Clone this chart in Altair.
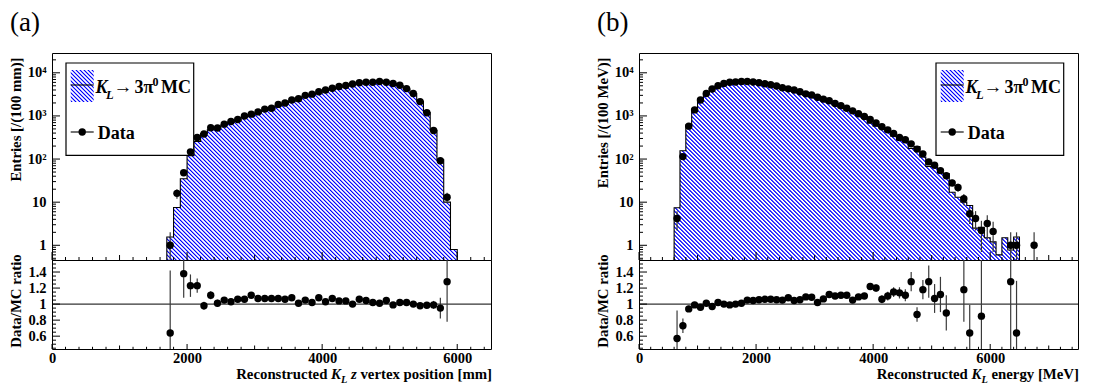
import math
import altair as alt
import pandas as pd

FONT = "Liberation Serif"
BLUE = "#0000ff"

# ---------------- panel (a): K_L z vertex position ----------------
a_x_domain = [0, 6500]
a_first_edge = 1700
a_mc = [1.56, 7.5, 35, 120, 257, 388, 477, 520, 614, 718,
        783, 943, 991, 1159, 1346, 1411, 1729, 1887, 2176, 2475,
        2857, 3137, 3380, 3883, 4112, 4615, 4904, 5500, 5566, 5789,
        5931, 6238, 5789, 5707, 5049, 4216, 3300, 2194, 1198, 465,
        96, 10, 0.8]
a_data_x = [1750 + 100 * i for i in range(42)]
a_data_y = [1.0, 16, 48, 147, 316, 380, 530, 525, 645, 740,
            830, 1000, 1100, 1240, 1440, 1510, 1850, 2000, 2350, 2500,
            3000, 3200, 3650, 4000, 4400, 4800, 5100, 5500, 5900, 6050,
            6050, 6300, 6050, 5650, 5150, 4300, 3300, 2150, 1180, 460,
            91, 13]
a_data_e = [1.0, 4, 7, 12, 18, 19, 23, 23, 25, 27,
            29, 32, 33, 35, 38, 39, 43, 45, 48, 50,
            55, 57, 60, 63, 66, 69, 71, 74, 77, 78,
            78, 79, 78, 75, 72, 66, 57, 46, 34, 21,
            9.5, 3.6]
a_ratio_x = [1750] + [1950 + 100 * i for i in range(40)]
a_ratio_y = [0.64, 1.38, 1.23, 1.23, 0.98, 1.11, 1.01, 1.05, 1.03, 1.06,
             1.06, 1.11, 1.07, 1.07, 1.07, 1.07, 1.06, 1.08, 1.01, 1.05,
             1.02, 1.08, 1.03, 1.07, 1.04, 1.04, 1.00, 1.06, 1.045, 1.02,
             1.01, 1.045, 0.99, 1.02, 1.02, 1.00, 0.98, 0.985, 0.99, 0.95,
             1.28]
a_ratio_e = [0.78, 0.30, 0.14, 0.09, 0.05, 0.05, 0.045, 0.04, 0.04, 0.035,
             0.035, 0.03, 0.03, 0.03, 0.03, 0.03, 0.025, 0.025, 0.025, 0.02,
             0.02, 0.02, 0.02, 0.02, 0.02, 0.02, 0.02, 0.02, 0.02, 0.02,
             0.02, 0.02, 0.02, 0.02, 0.02, 0.025, 0.03, 0.035, 0.05, 0.13,
             0.5]

# ---------------- panel (b): K_L energy ----------------
b_x_domain = [0, 7500]
b_first_edge = 600
b_mc = [7.4, 156, 617, 1394, 2437, 3267, 4330, 4900, 5650, 6111,
        6100, 6300, 6000, 5837, 5592, 5245, 5000, 4692, 4286, 3935,
        3828, 3460, 2982, 2811, 2667, 2300, 2009, 1764, 1559, 1360,
        1248, 1028, 882, 680, 575, 528, 432, 339, 277, 252,
        176, 195, 112, 67, 67, 48, 46, 17, 13, 10,
        8.4, 2.5, 2.6, 1.5, 1.2, 0.6, 1.5, 0.78, 1.56]
b_data_x = [650 + 100 * i for i in range(55)] + [6350, 6450, 6750]
b_data_y = [4.2, 114, 580, 1380, 2340, 3300, 4200, 5000, 5650, 6050,
            6100, 6300, 6300, 6100, 5900, 5560, 5300, 4950, 4500, 4250,
            4000, 3650, 3250, 3050, 2720, 2450, 2250, 1940, 1730, 1510,
            1310, 1120, 970, 830, 690, 560, 475, 390, 316, 280,
            225, 170, 132, 86, 72, 54, 41, 28, 22, 12,
            5.4, 4.2, 2.2, 3.2, 2.1, 1, 1, 1]
b_data_e = [2.0, 10.7, 24, 37, 48, 57, 65, 71, 75, 78,
            78, 79, 79, 78, 77, 75, 73, 70, 67, 65,
            63, 60, 57, 55, 52, 49, 47, 44, 42, 39,
            36, 33, 31, 29, 26, 24, 22, 20, 18, 17,
            15, 13, 11.5, 9.3, 8.5, 7.3, 6.4, 5.3, 4.7, 3.5,
            2.3, 2.0, 1.5, 1.8, 1.4, 1.0, 1.0, 1.0]
b_ratio_x = [650 + 100 * i for i in range(47)] + [5550, 5650, 5850, 6350, 6450]
b_ratio_y = [0.57, 0.73, 0.94, 0.99, 0.96, 1.01, 0.97, 1.02, 1.00, 0.99,
             1.00, 1.01, 1.05, 1.045, 1.055, 1.06, 1.06, 1.055, 1.05, 1.08,
             1.045, 1.055, 1.09, 1.085, 1.02, 1.065, 1.12, 1.10, 1.11, 1.11,
             1.05, 1.09, 1.10, 1.22, 1.20, 1.06, 1.10, 1.15, 1.14, 1.11,
             1.28, 0.87, 1.18, 1.28, 1.07, 1.12, 0.89,
             1.18, 0.64, 0.85, 1.28, 0.64]
b_ratio_e = [0.35, 0.09, 0.04, 0.03, 0.025, 0.02, 0.02, 0.02, 0.02, 0.02,
             0.02, 0.02, 0.02, 0.02, 0.02, 0.02, 0.02, 0.02, 0.02, 0.02,
             0.02, 0.02, 0.02, 0.02, 0.025, 0.025, 0.025, 0.03, 0.03, 0.03,
             0.03, 0.035, 0.035, 0.04, 0.045, 0.05, 0.055, 0.06, 0.07, 0.075,
             0.12, 0.09, 0.12, 0.2, 0.18, 0.22, 0.22,
             0.4, 0.35, 1.0, 1.0, 0.65]

BIN_W = 100
Y_DOM = [0.456, 28800]
R_DOM = [0.44, 1.55]
Y_MAJOR = [1, 10, 100, 1000, 10000]
R_MAJOR = [0.6, 0.8, 1.0, 1.2, 1.4]
X_LABELS = [0, 2000, 4000, 6000]

# ---------------- layout constants ----------------
W = 439
H_TOP = 207
H_RAT = 89
TITLE_FS = 14.8
LABEL_FS = 14.5

dummy = pd.DataFrame({"d": [0]})

TB = {" ": 250, "[": 333, "]": 333, "/": 278, "(": 333, ")": 333, ".": 250,
      "C": 722, "D": 722, "E": 667, "K": 778, "L": 667, "M": 944, "R": 722, "V": 722,
      "a": 500, "c": 444, "d": 556, "e": 444, "g": 500, "i": 278, "m": 833, "n": 556,
      "o": 500, "p": 556, "r": 444, "s": 389, "t": 333, "u": 556, "v": 500, "x": 500,
      "y": 500, "z": 444}
TBI = {" ": 250, "K": 667, "L": 611, "z": 389}


def text_width(s, fs, italic=False):
    table = TBI if italic else TB
    return sum(table.get(ch, 500) for ch in s) * fs / 1000.0


def hatch(w, h, period=4.0, color=BLUE):
    """45-degree hatching as a linear gradient over the item's bounding box.
    Each stripe has soft 1px ramps so pixel sampling gives an even density."""
    r = h / w
    k = (1 + r) / (1 + r * r)
    n = int(math.ceil((w + h) / period))
    k *= n * period / (w + h)          # stripe period = exact pixel count
    prof = [(0.0, "white"), (1.0, color), (1.6, color), (2.6, "white")]
    stops = []
    for i in range(n):
        for px, col in prof:
            stops.append(alt.GradientStop(color=col, offset=(i + px / period) / n))
    stops.append(alt.GradientStop(color="white", offset=1.0))
    return alt.LinearGradient(gradient="linear", stops=stops,
                              x1=0, y1=1, x2=k, y2=1 - r * k)


def txt(s, x, y, size, style="normal", weight="bold", align="left", baseline="alphabetic"):
    return alt.Chart(dummy).mark_text(
        text=s, align=align, baseline=baseline, font=FONT, fontSize=size,
        fontStyle=style, fontWeight=weight, color="black"
    ).encode(x=alt.value(x), y=alt.value(y))


def build_panel(xdom, first_edge, mc, dx_, dy_, de_, rx_, ry_, re_, ytitle, xtitle, tag, ldx):
    xs = alt.Scale(domain=xdom, nice=False, zero=False)
    ys = alt.Scale(type="log", domain=Y_DOM, nice=False)
    rs = alt.Scale(domain=R_DOM, nice=False, zero=False)

    def xpix(v):
        return (v - xdom[0]) / (xdom[1] - xdom[0]) * W

    def ypix(v):
        l0, l1 = math.log10(Y_DOM[0]), math.log10(Y_DOM[1])
        return H_TOP * (l1 - math.log10(v)) / (l1 - l0)

    y_axis = alt.Axis(
        values=Y_MAJOR,
        labelExpr="datum.value >= 10000 ? '10\u2074' : datum.value >= 1000 ? '10\u00b3' : "
                  "datum.value >= 100 ? '10\u00b2' : datum.value >= 10 ? '10' : '1'",
        ticks=False, tickSize=0, domain=False, grid=False,
        labelFont=FONT, labelFontSize=LABEL_FS, labelFontWeight="bold", labelColor="black",
        labelPadding=6, labelOverlap=False, labelFlush=False,
        title=ytitle, titleFont=FONT, titleFontSize=TITLE_FS, titleFontWeight="bold",
        titleColor="black", titleAngle=270, titleX=-28.5, titleY=4,
        titleAlign="right", titleBaseline="bottom")
    r_axis = alt.Axis(
        values=R_MAJOR, format="~g",
        ticks=False, tickSize=0, domain=False, grid=False,
        labelFont=FONT, labelFontSize=LABEL_FS, labelFontWeight="bold", labelColor="black",
        labelPadding=6, labelOverlap=False, labelFlush=False,
        title="Data/MC ratio", titleFont=FONT, titleFontSize=TITLE_FS, titleFontWeight="bold",
        titleColor="black", titleAngle=270, titleX=-28.5, titleY=40.5,
        titleAlign="center", titleBaseline="bottom")
    x_axis = alt.Axis(
        values=X_LABELS, format="d", ticks=False, tickSize=0, domain=False, grid=False,
        labelFont=FONT, labelFontSize=LABEL_FS, labelFontWeight="bold", labelColor="black",
        labelPadding=2, labelOverlap=False, labelFlush=False, title=None)

    # ---- MC histogram (hatched area + outline)
    edges = [first_edge + BIN_W * i for i in range(len(mc) + 1)]
    base_v = Y_DOM[0]
    area_df = pd.DataFrame({"x": edges, "y": mc + [mc[-1]],
                            "b": [base_v] * (len(mc) + 1)})
    bw = xpix(edges[-1]) - xpix(edges[0])
    bh = ypix(base_v) - ypix(max(mc))
    area = alt.Chart(area_df).mark_area(
        interpolate="step-after", color=hatch(bw, bh), clip=True, opacity=1,
        orient="vertical"
    ).encode(x=alt.X("x:Q", scale=xs, axis=None),
             y=alt.Y("y:Q", scale=ys, axis=y_axis, stack=None),
             y2="b:Q")

    floor = Y_DOM[0] / 20
    ox = [edges[0]] + edges + [edges[-1]]
    oy = [floor] + mc + [mc[-1], floor]
    out_df = pd.DataFrame({"x": ox, "y": oy, "i": list(range(len(ox)))})
    outline = alt.Chart(out_df).mark_line(
        interpolate="step-after", color="black", strokeWidth=1.1, clip=True
    ).encode(x=alt.X("x:Q", scale=xs, axis=None),
             y=alt.Y("y:Q", scale=ys, axis=y_axis),
             order=alt.Order("i:Q"))

    # ---- data points with error bars
    lo = [max(v - e, floor) for v, e in zip(dy_, de_)]
    hi = [v + e for v, e in zip(dy_, de_)]
    ddf = pd.DataFrame({"x": dx_, "y": dy_, "lo": lo, "hi": hi})
    errs = alt.Chart(ddf).mark_rule(color="#3a3a3a", strokeWidth=1.2, clip=True).encode(
        x=alt.X("x:Q", scale=xs, axis=None),
        y=alt.Y("lo:Q", scale=ys, axis=y_axis), y2="hi:Q")
    pts = alt.Chart(ddf).mark_circle(size=55, color="black", opacity=1, clip=True).encode(
        x=alt.X("x:Q", scale=xs, axis=None),
        y=alt.Y("y:Q", scale=ys, axis=y_axis))

    # ---- legend
    leg = [
        alt.Chart(dummy).mark_rect(fill="white", stroke="black", strokeWidth=1.2).encode(
            x=alt.value(14 + ldx), x2=alt.value(141.7 + ldx), y=alt.value(10), y2=alt.value(102.3)),
        alt.Chart(dummy).mark_rect(fill=hatch(23, 32), strokeWidth=0).encode(
            x=alt.value(18.7 + ldx), x2=alt.value(41.7 + ldx), y=alt.value(17), y2=alt.value(49)),
        alt.Chart(dummy).mark_rule(color="black", strokeWidth=1.1).encode(
            x=alt.value(18.7 + ldx), x2=alt.value(41.7 + ldx), y=alt.value(32)),
        alt.Chart(dummy).mark_rule(color="black", strokeWidth=1.1).encode(
            x=alt.value(18.7 + ldx), x2=alt.value(41.7 + ldx), y=alt.value(79)),
        alt.Chart(dummy).mark_circle(size=55, color="black", opacity=1).encode(
            x=alt.value(30.2 + ldx), y=alt.value(79)),
        txt("K", 43.4 + ldx, 39.7, 18, style="italic"),
        txt("L", 54.0 + ldx, 46.0, 12.5, style="italic"),
        txt("\u2192", 61.5 + ldx, 39.7, 19),
        txt("3\u03c0", 82.5 + ldx, 39.7, 18),
        txt("0", 100.5 + ldx, 32.5, 12),
        txt("MC", 109 + ldx, 39.7, 18),
        txt("Data", 45.7 + ldx, 86.3, 18),
    ]

    # ---- ticks (drawn inward)
    def yticks(values, length, scale, axis):
        return alt.Chart(pd.DataFrame({"v": values})).mark_rule(color="black", strokeWidth=1).encode(
            y=alt.Y("v:Q", scale=scale, axis=axis), x=alt.value(0), x2=alt.value(length))

    def xticks(values, length, h, axis):
        return alt.Chart(pd.DataFrame({"t": values})).mark_rule(color="black", strokeWidth=1).encode(
            x=alt.X("t:Q", scale=xs, axis=axis), y=alt.value(h), y2=alt.value(h - length))

    y_minor = [m * 10.0 ** e for e in range(-1, 5) for m in range(2, 10)
               if Y_DOM[0] <= m * 10.0 ** e <= Y_DOM[1]]
    x_prim = [v for v in range(0, xdom[1] + 1, 2000)]
    x_sec = [v for v in range(1000, xdom[1] + 1, 2000)]
    x_ter = [v for v in range(0, xdom[1] + 1, 200) if v % 1000 != 0]

    label = alt.Chart(dummy).mark_text(
        text=tag, align="left", baseline="top", font=FONT, fontSize=27,
        fontWeight="normal", color="black").encode(x=alt.value(-42), y=alt.value(-43))

    top = alt.layer(
        area, outline, errs, *leg, pts,
        yticks(Y_MAJOR, 8, ys, y_axis), yticks(y_minor, 4, ys, y_axis),
        xticks(x_prim, 8, H_TOP, None), xticks(x_sec, 5, H_TOP, None), xticks(x_ter, 3, H_TOP, None),
        label,
    ).properties(width=W, height=H_TOP)

    # ---- ratio panel
    one = alt.Chart(pd.DataFrame({"v": [1.0]})).mark_rule(color="black", strokeWidth=1).encode(
        y=alt.Y("v:Q", scale=rs, axis=r_axis), x=alt.value(0), x2=alt.value(W))
    rdf = pd.DataFrame({"x": rx_, "y": ry_,
                        "lo": [v - e for v, e in zip(ry_, re_)],
                        "hi": [v + e for v, e in zip(ry_, re_)]})
    rerr = alt.Chart(rdf).mark_rule(color="#3a3a3a", strokeWidth=1.2, clip=True).encode(
        x=alt.X("x:Q", scale=xs, axis=x_axis),
        y=alt.Y("lo:Q", scale=rs, axis=r_axis), y2="hi:Q")
    rpts = alt.Chart(rdf).mark_circle(size=55, color="black", opacity=1, clip=True).encode(
        x=alt.X("x:Q", scale=xs, axis=x_axis),
        y=alt.Y("y:Q", scale=rs, axis=r_axis))
    r_major = R_MAJOR
    r_minor = [round(0.45 + 0.05 * i, 2) for i in range(23)]
    r_minor = [v for v in r_minor if all(abs(v - m) > 1e-6 for m in r_major)]

    fs = TITLE_FS
    sub_fs = fs * 0.7
    widths = []
    for s, it, sub in xtitle:
        widths.append(text_width(s, sub_fs if sub else fs, italic=it))
    x0 = W + 1 - sum(widths)
    base = H_RAT + 29.5
    pieces = []
    cx = x0
    for (s, it, sub), wdt in zip(xtitle, widths):
        size = sub_fs if sub else fs
        stripped = s.lstrip(" ")
        lead = text_width(s[:len(s) - len(stripped)], size, italic=it)
        pieces.append(txt(stripped.rstrip(" "), cx + lead, base + (4.5 if sub else 0), size,
                          style="italic" if it else "normal"))
        cx += wdt

    ratio = alt.layer(
        one, rerr, rpts,
        yticks(r_major, 8, rs, r_axis), yticks(r_minor, 4, rs, r_axis),
        xticks(x_prim, 5, H_RAT, x_axis), xticks(x_sec, 3.5, H_RAT, x_axis),
        xticks(x_ter, 2.2, H_RAT, x_axis),
        *pieces,
    ).properties(width=W, height=H_RAT)

    return top, ratio


top_a, ratio_a = build_panel(
    a_x_domain, a_first_edge, a_mc, a_data_x, a_data_y, a_data_e,
    a_ratio_x, a_ratio_y, a_ratio_e, "Entries [/(100 mm)]",
    [("Reconstructed ", False, False), ("K", True, False), ("L", True, True),
     (" z", True, False), (" vertex position [mm]", False, False)],
    "(a)", 0)
top_b, ratio_b = build_panel(
    b_x_domain, b_first_edge, b_mc, b_data_x, b_data_y, b_data_e,
    b_ratio_x, b_ratio_y, b_ratio_e, "Entries [/(100 MeV)]",
    [("Reconstructed ", False, False), ("K", True, False), ("L", True, True),
     (" energy [MeV]", False, False)],
    "(b)", 283)

chart = alt.concat(
    top_a, top_b, ratio_a, ratio_b, columns=2,
    spacing={"row": 0, "column": 148}, bounds="flush"
).properties(padding=0, background="white").configure_view(stroke="black", strokeWidth=1)

chart.save("out.html", embed_options={"renderer": "svg", "actions": False})
